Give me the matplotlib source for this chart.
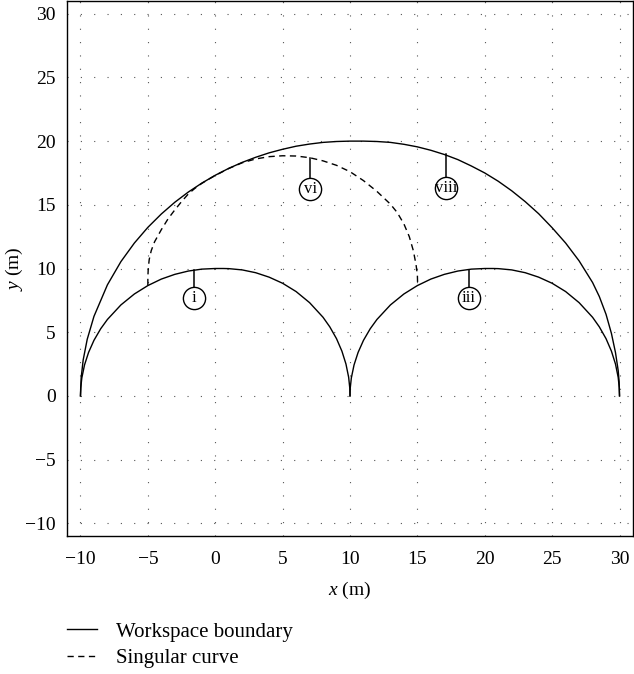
import matplotlib
matplotlib.use("Agg")
import matplotlib.pyplot as plt

plt.rcParams['font.family'] = ['Liberation Serif', 'DejaVu Serif']
plt.rcParams['mathtext.fontset'] = 'custom'
plt.rcParams['mathtext.rm'] = 'Liberation Serif'
plt.rcParams['mathtext.it'] = 'Liberation Serif:italic'

# workspace boundary - outer arc
outer_x = [-10, -9.95, -9.8, -9.5, -9.0, -8.0, -7.0, -6.0, -5.0, -4.0, -3.0, -2.0,
           -1.0, 0.0, 1.0, 2.0, 3.0, 4.0, 5.0, 6.0, 7.0, 8.0, 9.0, 10.0,
           11.0, 12.0, 13.0, 14.0, 15.0, 16.0, 17.0, 18.0, 19.0, 20.0, 21.0, 22.0,
           23.0, 24.0, 25.0, 26.0, 27.0, 28.0, 28.5, 29.0, 29.4, 29.7, 29.9, 29.97, 30.0]
outer_y = [0.0, 1.41, 2.82, 4.44, 6.24, 8.72, 10.54, 12.0, 13.23, 14.28, 15.2, 16.0,
           16.7, 17.32, 17.86, 18.33, 18.73, 19.08, 19.36, 19.6, 19.77, 19.9, 19.97, 20.0,
           20.0, 19.97, 19.9, 19.75, 19.55, 19.28, 18.95, 18.55, 18.05, 17.5, 16.85, 16.1,
           15.25, 14.3, 13.2, 12.0, 10.6, 8.9, 7.8, 6.4, 4.9, 3.4, 2.0, 1.1, 0.0]

# workspace boundary - left inner arc
left_x = [-10, -9.98, -9.9, -9.7, -9.4, -9.0, -8.5, -8.0, -7.0, -6.0, -5.0, -4.0,
          -3.0, -2.0, -1.0, 0.0, 0.6, 1.0, 2.0, 3.0, 4.0, 5.0, 6.0, 7.0,
          8.0, 8.5, 9.0, 9.4, 9.7, 9.9, 9.98, 10.0]
left_y = [0.0, 0.63, 1.41, 2.43, 3.41, 4.36, 5.27, 6.0, 7.14, 8.0, 8.66, 9.17,
          9.54, 9.8, 9.95, 10.0, 10.0, 9.99, 9.89, 9.67, 9.32, 8.84, 8.19, 7.32,
          6.17, 5.42, 4.49, 3.51, 2.5, 1.46, 0.65, 0.0]

# workspace boundary - right inner arc
right_x = [10, 10.02, 10.1, 10.3, 10.6, 11.0, 11.5, 12.0, 13.0, 14.0, 15.0, 16.0,
           17.0, 18.0, 19.0, 20.0, 20.6, 21.0, 22.0, 23.0, 24.0, 25.0, 26.0, 27.0,
           28.0, 28.5, 29.0, 29.4, 29.7, 29.9, 29.98, 30.0]
right_y = [0.0, 0.63, 1.41, 2.43, 3.41, 4.36, 5.27, 6.0, 7.14, 8.0, 8.66, 9.17,
           9.54, 9.8, 9.95, 10.0, 10.0, 9.99, 9.89, 9.67, 9.32, 8.84, 8.19, 7.32,
           6.17, 5.42, 4.49, 3.51, 2.5, 1.46, 0.65, 0.0]

# singular curve
sing_x = [-5.0, -5.0, -4.97, -4.9, -4.75, -4.5, -4.0, -3.5, -3.0, -2.5, -2.0, -1.5,
          -1.0, -0.5, 0.0, 1.0, 2.0, 3.0, 4.0, 5.0, 6.0, 7.0, 8.0, 9.0,
          10.0, 11.0, 12.0, 13.0, 13.5, 14.0, 14.4, 14.7, 14.9, 15.0, 15.02]
sing_y = [8.7, 9.3, 10.0, 10.7, 11.4, 12.1, 13.05, 13.9, 14.6, 15.25, 15.85, 16.3,
          16.68, 17.0, 17.3, 17.85, 18.3, 18.6, 18.78, 18.85, 18.83, 18.7, 18.45, 18.1,
          17.6, 16.9, 16.05, 15.05, 14.4, 13.5, 12.5, 11.4, 10.3, 9.5, 8.65]

# circled labels: x, top of leader (on curve), circle centre
tag_names = ['i', 'vi', 'viii', 'iii']
tag_x = [-1.6, 7.05, 17.15, 18.8]
tag_top = [9.85, 18.7, 18.95, 9.85]
tag_y = [7.65, 16.25, 16.35, 7.65]

fig = plt.figure(figsize=(6.34, 6.74), dpi=100)
ax = fig.add_axes([67/634, 1 - 536/674, 566/634, 535/674])

ax.plot(outer_x, outer_y, color='black', lw=1.0, label='Workspace boundary')
ax.plot(left_x, left_y, color='black', lw=1.0)
ax.plot(right_x, right_y, color='black', lw=1.0)
ax.plot(sing_x, sing_y, color='black', lw=1.0, dashes=(4.5, 3.2), label='Singular curve')

for name, tx, ttop, ty in zip(tag_names, tag_x, tag_top, tag_y):
    ax.plot([tx, tx], [ty, ttop], color='black', lw=1.1, zorder=3)
    ax.plot(tx, ty, marker='o', ms=16, mfc='white', mec='black', mew=1.0, zorder=4)
    ax.text(tx, ty, name, ha='center', va='center', fontsize=12, zorder=5)

ax.set_xlim(-11, 31)
ax.set_ylim(-11, 31)
ax.set_xticks(range(-10, 31, 5))
ax.set_yticks(range(-10, 31, 5))
ax.grid(True, color='#555555', lw=0.8, dashes=(1, 11))
ax.set_axisbelow(True)
ax.tick_params(length=0, labelsize=14)
ax.tick_params(axis='x', pad=11)
ax.tick_params(axis='y', pad=8)
for s in ax.spines.values():
    s.set_linewidth(1.0)

ax.set_xlabel('$x$ (m)', fontsize=14, labelpad=8)
ax.set_ylabel('$y$ (m)', fontsize=14, labelpad=0)

fig.legend(loc='upper left', bbox_to_anchor=(67/634, 1 - 622/674), frameon=False,
           fontsize=15, handlelength=1.45, handletextpad=0.9, labelspacing=0.32,
           borderpad=0, borderaxespad=0)

fig.savefig('out.png', dpi=100)
